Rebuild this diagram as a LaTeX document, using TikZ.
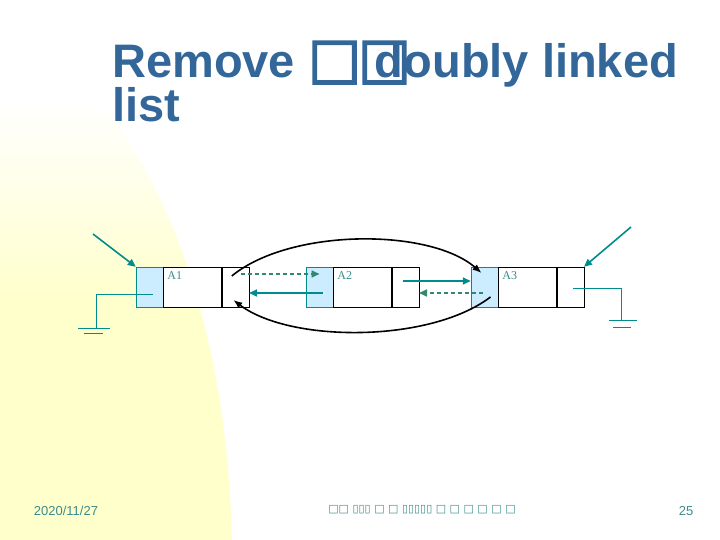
\documentclass[tikz,border=0pt]{standalone}
\usepackage{fontspec}
\setmainfont{Liberation Sans}
\newfontfamily\boxfont{DejaVu Sans}[FakeBold=3]
\newfontfamily\tofufont{DejaVu Sans}
\newfontfamily\cellfont{Liberation Serif}
\usetikzlibrary{positioning,arrows.meta,calc}

\definecolor{titleblue}{RGB}{51,102,153}
\definecolor{linkteal}{RGB}{0,140,140}
\definecolor{dashteal}{RGB}{50,135,110}
\definecolor{cellblue}{RGB}{204,236,255}
\definecolor{footteal}{RGB}{60,140,140}
\definecolor{bgyellow}{RGB}{255,255,204}

\tikzset{
  titletext/.style={text=titleblue, font=\fontsize{47}{38}\selectfont\bfseries, inner sep=0pt, align=left},
  ptrcell/.style={draw=linkteal, fill=cellblue, minimum width=27pt, minimum height=40pt, inner sep=0pt},
  datacell/.style={draw=black, fill=white, minimum width=58pt, minimum height=40pt, inner sep=0pt},
  nextcell/.style={draw=black, fill=white, minimum width=27pt, minimum height=40pt, inner sep=0pt},
  cellname/.style={text=footteal, font=\cellfont\fontsize{12}{12}\selectfont, inner sep=0pt},
  link/.style={draw=linkteal, line width=1.6pt, -{Triangle[length=8pt,width=7pt]}},
  dashlink/.style={link, draw=dashteal, dash pattern=on 4pt off 3pt},
  swing/.style={draw=black, line width=1.6pt, -{Latex[length=9pt,width=7pt]}},
  gnd/.style={draw=linkteal, line width=0.8pt},
  foot/.style={text=footteal, font=\fontsize{13}{13}\selectfont, inner sep=0pt}
}

\begin{document}
\begin{tikzpicture}[x=1pt,y=-1pt,node distance=0pt]
\useasboundingbox (0,0) rectangle (720,540);

% background
\begin{scope}
\clip (-30,560) ellipse (262 and 525);
\fill[bgyellow] (-40,300) rectangle (300,560);
\shade[top color=white, bottom color=bgyellow] (-40,100) rectangle (300,301);
\end{scope}

% title
\node[titletext, anchor=base west] (title) at (112,122) {Remove {\boxfont\fontsize{56}{56}\selectfont □\hspace{-3pt}□}\hspace{-36pt}doubly linked\\list};

% the three nodes
\node[ptrcell] (p1) at (149.5,287) {};
\node[datacell, right=of p1] (d1) {};
\node[nextcell, right=of d1] (n1) {};
\node[ptrcell] (p2) at (319.5,287) {};
\node[datacell, right=of p2] (d2) {};
\node[nextcell, right=of d2] (n2) {};
\node[ptrcell] (p3) at (484.5,287) {};
\node[datacell, right=of p3] (d3) {};
\node[nextcell, right=of d3] (n3) {};

\node[cellname, anchor=north west] (a1) at ($(d1.north west)+(4,5)$) {A1};
\node[cellname, anchor=north west] (a2) at ($(d2.north west)+(4,5)$) {A2};
\node[cellname, anchor=north west] (a3) at ($(d3.north west)+(4,5)$) {A3};

% head and tail
\coordinate (head) at (93,234);
\coordinate (tail) at (631,227);
\draw[link] (head) -- (p1.north west);
\draw[link] (tail) -- (n3.north east);

% grounds
\coordinate (g1) at (96,328);
\draw[gnd] ($(p1.center)+(3.5,7)$) -| (g1);
\draw[gnd] ($(g1)+(-18,0)$) -- ($(g1)+(14,0)$);
\draw[gnd] ($(g1)+(-12,5)$) -- ($(g1)+(7,5)$);
\coordinate (g3) at (621,320);
\draw[gnd] ($(n3.center)+(3,1)$) -| (g3);
\draw[gnd] ($(g3)+(-12,0)$) -- ($(g3)+(16,0)$);
\draw[gnd] ($(g3)+(-8,7)$) -- ($(g3)+(10,7)$);

% links
\draw[dashlink] ($(n1.center)+(5.5,-13)$) -- ($(p2.center)+(0,-13)$);
\draw[link] ($(p2.center)+(3,6)$) -- ($(n1.east)+(0,6)$);
\draw[link] ($(n2.center)+(-2.5,-6)$) -- ($(p3.west)+(0,-6)$);
\draw[dashlink] ($(p3.center)+(-2,6)$) -- ($(n2.east)+(0,6)$);

\draw[swing] ($(n1.center)+(-3.5,-11)$) .. controls (290,228) and (430,228) .. ($(p3.center)+(-3,-14)$);
\draw[swing] ($(p3.center)+(6,10)$) .. controls (430,343) and (290,343) .. ($(n1.center)+(-2,13)$);

% footer
\node[foot] (date) at (66,511) {2020/11/27};
\node[foot] (page) at (686,511) {25};
\node[foot, font=\tofufont\fontsize{11}{11}\selectfont] (mid) at (422,510) {□□ ▯▯▯ □ □ ▯▯▯▯▯ □ □ □ □ □ □};
\end{tikzpicture}
\end{document}
